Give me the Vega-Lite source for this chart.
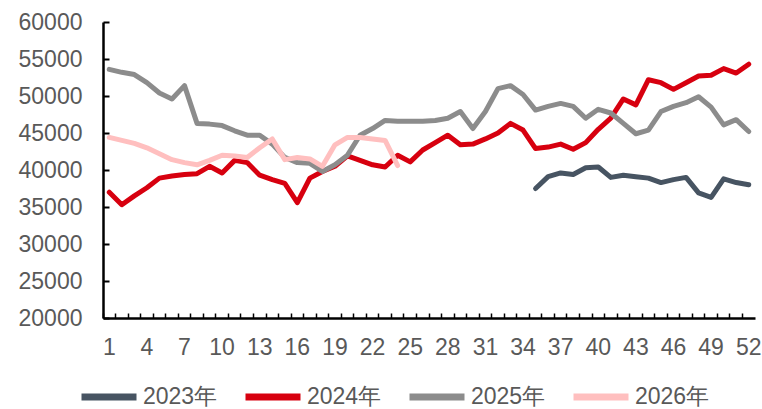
{
  "$schema": "https://vega.github.io/schema/vega-lite/v6.json",
  "width": 652,
  "height": 296,
  "autosize": "none",
  "padding": {"left": 103, "top": 22, "right": 7, "bottom": 91},
  "background": "white",
  "config": {
    "view": {"stroke": null},
    "font": "Liberation Sans"
  },
  "data": {
    "values": [
      {"week": 35, "year": "2023年", "value": 37500},
      {"week": 36, "year": "2023年", "value": 39100},
      {"week": 37, "year": "2023年", "value": 39600},
      {"week": 38, "year": "2023年", "value": 39400},
      {"week": 39, "year": "2023年", "value": 40300},
      {"week": 40, "year": "2023年", "value": 40400},
      {"week": 41, "year": "2023年", "value": 39000},
      {"week": 42, "year": "2023年", "value": 39300},
      {"week": 43, "year": "2023年", "value": 39100},
      {"week": 44, "year": "2023年", "value": 38900},
      {"week": 45, "year": "2023年", "value": 38300},
      {"week": 46, "year": "2023年", "value": 38700},
      {"week": 47, "year": "2023年", "value": 39000},
      {"week": 48, "year": "2023年", "value": 36900},
      {"week": 49, "year": "2023年", "value": 36300},
      {"week": 50, "year": "2023年", "value": 38800},
      {"week": 51, "year": "2023年", "value": 38300},
      {"week": 52, "year": "2023年", "value": 38000},

      {"week": 1, "year": "2024年", "value": 37000},
      {"week": 2, "year": "2024年", "value": 35300},
      {"week": 3, "year": "2024年", "value": 36500},
      {"week": 4, "year": "2024年", "value": 37600},
      {"week": 5, "year": "2024年", "value": 38900},
      {"week": 6, "year": "2024年", "value": 39200},
      {"week": 7, "year": "2024年", "value": 39400},
      {"week": 8, "year": "2024年", "value": 39500},
      {"week": 9, "year": "2024年", "value": 40500},
      {"week": 10, "year": "2024年", "value": 39600},
      {"week": 11, "year": "2024年", "value": 41300},
      {"week": 12, "year": "2024年", "value": 41000},
      {"week": 13, "year": "2024年", "value": 39300},
      {"week": 14, "year": "2024年", "value": 38700},
      {"week": 15, "year": "2024年", "value": 38200},
      {"week": 16, "year": "2024年", "value": 35600},
      {"week": 17, "year": "2024年", "value": 38900},
      {"week": 18, "year": "2024年", "value": 39800},
      {"week": 19, "year": "2024年", "value": 40500},
      {"week": 20, "year": "2024年", "value": 41900},
      {"week": 21, "year": "2024年", "value": 41300},
      {"week": 22, "year": "2024年", "value": 40700},
      {"week": 23, "year": "2024年", "value": 40400},
      {"week": 24, "year": "2024年", "value": 42000},
      {"week": 25, "year": "2024年", "value": 41100},
      {"week": 26, "year": "2024年", "value": 42700},
      {"week": 27, "year": "2024年", "value": 43700},
      {"week": 28, "year": "2024年", "value": 44700},
      {"week": 29, "year": "2024年", "value": 43400},
      {"week": 30, "year": "2024年", "value": 43500},
      {"week": 31, "year": "2024年", "value": 44200},
      {"week": 32, "year": "2024年", "value": 45000},
      {"week": 33, "year": "2024年", "value": 46300},
      {"week": 34, "year": "2024年", "value": 45400},
      {"week": 35, "year": "2024年", "value": 42900},
      {"week": 36, "year": "2024年", "value": 43100},
      {"week": 37, "year": "2024年", "value": 43500},
      {"week": 38, "year": "2024年", "value": 42800},
      {"week": 39, "year": "2024年", "value": 43700},
      {"week": 40, "year": "2024年", "value": 45500},
      {"week": 41, "year": "2024年", "value": 47000},
      {"week": 42, "year": "2024年", "value": 49600},
      {"week": 43, "year": "2024年", "value": 48800},
      {"week": 44, "year": "2024年", "value": 52200},
      {"week": 45, "year": "2024年", "value": 51800},
      {"week": 46, "year": "2024年", "value": 50900},
      {"week": 47, "year": "2024年", "value": 51800},
      {"week": 48, "year": "2024年", "value": 52700},
      {"week": 49, "year": "2024年", "value": 52800},
      {"week": 50, "year": "2024年", "value": 53700},
      {"week": 51, "year": "2024年", "value": 53100},
      {"week": 52, "year": "2024年", "value": 54300},

      {"week": 1, "year": "2025年", "value": 53600},
      {"week": 2, "year": "2025年", "value": 53200},
      {"week": 3, "year": "2025年", "value": 52900},
      {"week": 4, "year": "2025年", "value": 51800},
      {"week": 5, "year": "2025年", "value": 50400},
      {"week": 6, "year": "2025年", "value": 49600},
      {"week": 7, "year": "2025年", "value": 51400},
      {"week": 8, "year": "2025年", "value": 46300},
      {"week": 9, "year": "2025年", "value": 46200},
      {"week": 10, "year": "2025年", "value": 46000},
      {"week": 11, "year": "2025年", "value": 45300},
      {"week": 12, "year": "2025年", "value": 44700},
      {"week": 13, "year": "2025年", "value": 44700},
      {"week": 14, "year": "2025年", "value": 43500},
      {"week": 15, "year": "2025年", "value": 41700},
      {"week": 16, "year": "2025年", "value": 41000},
      {"week": 17, "year": "2025年", "value": 40900},
      {"week": 18, "year": "2025年", "value": 39800},
      {"week": 19, "year": "2025年", "value": 40700},
      {"week": 20, "year": "2025年", "value": 42000},
      {"week": 21, "year": "2025年", "value": 44700},
      {"week": 22, "year": "2025年", "value": 45600},
      {"week": 23, "year": "2025年", "value": 46700},
      {"week": 24, "year": "2025年", "value": 46600},
      {"week": 25, "year": "2025年", "value": 46600},
      {"week": 26, "year": "2025年", "value": 46600},
      {"week": 27, "year": "2025年", "value": 46700},
      {"week": 28, "year": "2025年", "value": 47000},
      {"week": 29, "year": "2025年", "value": 47900},
      {"week": 30, "year": "2025年", "value": 45600},
      {"week": 31, "year": "2025年", "value": 47900},
      {"week": 32, "year": "2025年", "value": 51000},
      {"week": 33, "year": "2025年", "value": 51400},
      {"week": 34, "year": "2025年", "value": 50200},
      {"week": 35, "year": "2025年", "value": 48100},
      {"week": 36, "year": "2025年", "value": 48600},
      {"week": 37, "year": "2025年", "value": 49000},
      {"week": 38, "year": "2025年", "value": 48600},
      {"week": 39, "year": "2025年", "value": 47000},
      {"week": 40, "year": "2025年", "value": 48200},
      {"week": 41, "year": "2025年", "value": 47700},
      {"week": 42, "year": "2025年", "value": 46300},
      {"week": 43, "year": "2025年", "value": 44900},
      {"week": 44, "year": "2025年", "value": 45400},
      {"week": 45, "year": "2025年", "value": 47900},
      {"week": 46, "year": "2025年", "value": 48600},
      {"week": 47, "year": "2025年", "value": 49100},
      {"week": 48, "year": "2025年", "value": 49900},
      {"week": 49, "year": "2025年", "value": 48500},
      {"week": 50, "year": "2025年", "value": 46100},
      {"week": 51, "year": "2025年", "value": 46800},
      {"week": 52, "year": "2025年", "value": 45200},

      {"week": 1, "year": "2026年", "value": 44400},
      {"week": 2, "year": "2026年", "value": 44000},
      {"week": 3, "year": "2026年", "value": 43600},
      {"week": 4, "year": "2026年", "value": 43000},
      {"week": 5, "year": "2026年", "value": 42200},
      {"week": 6, "year": "2026年", "value": 41400},
      {"week": 7, "year": "2026年", "value": 41000},
      {"week": 8, "year": "2026年", "value": 40700},
      {"week": 9, "year": "2026年", "value": 41300},
      {"week": 10, "year": "2026年", "value": 42000},
      {"week": 11, "year": "2026年", "value": 41900},
      {"week": 12, "year": "2026年", "value": 41700},
      {"week": 13, "year": "2026年", "value": 43000},
      {"week": 14, "year": "2026年", "value": 44200},
      {"week": 15, "year": "2026年", "value": 41400},
      {"week": 16, "year": "2026年", "value": 41700},
      {"week": 17, "year": "2026年", "value": 41500},
      {"week": 18, "year": "2026年", "value": 40500},
      {"week": 19, "year": "2026年", "value": 43400},
      {"week": 20, "year": "2026年", "value": 44400},
      {"week": 21, "year": "2026年", "value": 44400},
      {"week": 22, "year": "2026年", "value": 44200},
      {"week": 23, "year": "2026年", "value": 44000},
      {"week": 24, "year": "2026年", "value": 40600}
    ]
  },
  "mark": {"type": "line", "strokeWidth": 5, "strokeCap": "round", "strokeJoin": "round"},
  "encoding": {
    "x": {
      "field": "week",
      "type": "ordinal",
      "scale": {"type": "band", "paddingInner": 0, "paddingOuter": 0},
      "axis": {
        "title": null,
        "labelAngle": 0,
        "bandPosition": 0,
        "labelExpr": "(datum.value - 1) % 3 == 0 ? datum.label : ''",
        "labelFontSize": 23,
        "labelColor": "#595959",
        "labelPadding": 23,
        "labelBound": false,
        "labelOverlap": false,
        "domainColor": "#000000",
        "domainWidth": 2.5,
        "tickColor": "#000000",
        "tickWidth": 1.5,
        "tickSize": -5,
        "grid": false
      }
    },
    "y": {
      "field": "value",
      "type": "quantitative",
      "scale": {"domain": [20000, 60000], "nice": false, "zero": false},
      "axis": {
        "title": null,
        "values": [20000, 25000, 30000, 35000, 40000, 45000, 50000, 55000, 60000],
        "format": "d",
        "labelFontSize": 23,
        "labelColor": "#595959",
        "labelPadding": 27,
        "domainColor": "#000000",
        "domainWidth": 2.5,
        "tickColor": "#000000",
        "tickWidth": 2,
        "tickSize": -6,
        "grid": false
      }
    },
    "color": {
      "field": "year",
      "type": "nominal",
      "scale": {
        "domain": ["2023年", "2024年", "2025年", "2026年"],
        "range": ["#475462", "#D7000F", "#8C8C8C", "#FFBFBF"]
      },
      "legend": {
        "title": null,
        "orient": "none",
        "direction": "horizontal",
        "legendX": -25,
        "legendY": 344,
        "padding": 0,
        "symbolType": "stroke",
        "symbolSize": 3025,
        "symbolStrokeWidth": 7,
        "labelFontSize": 23,
        "labelColor": "#595959",
        "labelOffset": 3,
        "columnPadding": 13
      }
    }
  }
}
